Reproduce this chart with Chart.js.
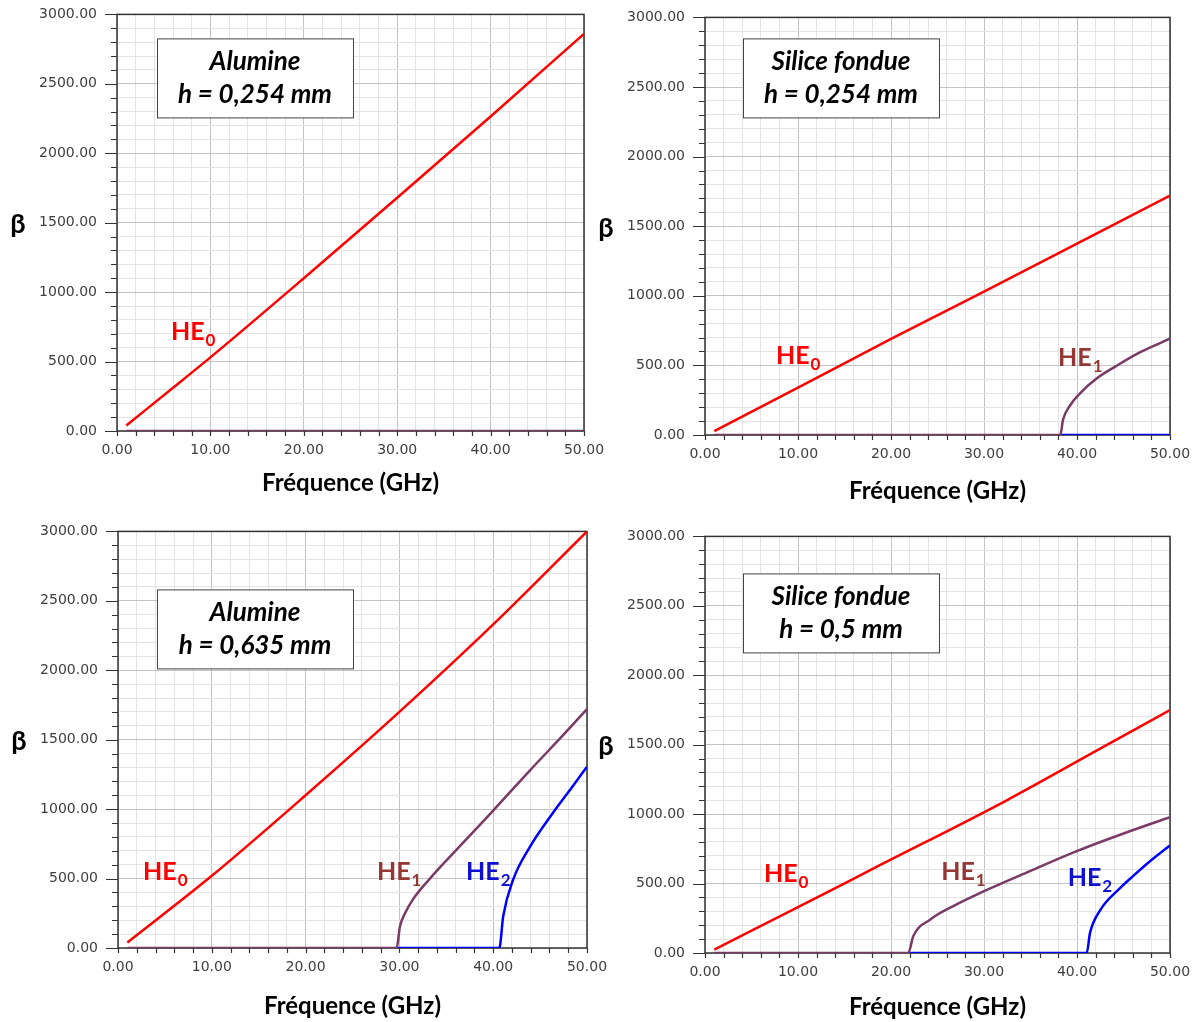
<!DOCTYPE html>
<html>
<head>
<meta charset="utf-8">
<script src="https://cdn.jsdelivr.net/npm/chart.js@4.4.1/dist/chart.umd.min.js"></script>
<style>
  html, body { margin: 0; padding: 0; background: #fff; overflow: hidden; }
  body { width: 1199px; height: 1022px; position: relative; }
  canvas { position: absolute; }
</style>
</head>
<body>
<canvas id="c1"></canvas>
<canvas id="c2"></canvas>
<canvas id="c3"></canvas>
<canvas id="c4"></canvas>
<script>
// Alumine h = 0,254 mm
const alu254He0F = [1, 7, 10, 20, 30, 40, 50];
const alu254He0B = [40, 366, 530, 1100, 1680, 2265, 2860];
const alu254He1F = [1, 50];
const alu254He1B = [0, 0];

// Silice fondue h = 0,254 mm
const sil254He0F = [1, 10, 20, 30, 40, 50];
const sil254He0B = [28, 340, 690, 1030, 1375, 1720];
const sil254He1F = [1, 38.2, 38.5, 39.25, 40.3, 42.1, 44.2, 46.8, 50];
const sil254He1B = [0, 0, 110, 212, 298, 406, 495, 595, 692];
const sil254He2F = [38.2, 50];
const sil254He2B = [0, 0];

// Alumine h = 0,635 mm
const alu635He0F = [1, 10, 20, 30, 40, 50];
const alu635He0B = [40, 520, 1100, 1700, 2330, 3000];
const alu635He1F = [1, 29.7, 30.06, 30.6, 31.48, 33.25, 36.8, 40, 43.9, 47.5, 50];
const alu635He1B = [0, 0, 155, 250, 354, 500, 759, 990, 1278, 1536, 1720];
const alu635He2F = [29.7, 40.65, 41.07, 42.1, 43.9, 46.3, 48.4, 50];
const alu635He2B = [0, 0, 230, 488, 727, 967, 1158, 1306];

// Silice fondue h = 0,5 mm
const sil500He0F = [1, 10, 18.8, 32.4, 42.1, 50];
const sil500He0B = [25, 330, 632, 1098, 1457, 1750];
const sil500He1F = [1, 21.86, 22.4, 24.2, 26.7, 30, 34.95, 40.1, 45.3, 50];
const sil500He1B = [0, 0, 122, 240, 338, 445, 590, 737, 868, 978];
const sil500He2F = [21.86, 41.04, 41.4, 42.5, 44.6, 46.05, 48.2, 50];
const sil500He2B = [0, 0, 145, 309, 465, 555, 680, 775];

const xTicks = [0, 10, 20, 30, 40, 50];
const yTicks = [0, 500, 1000, 1500, 2000, 2500, 3000];

const RED = '#ff0000';
const PURPLE = '#7a3a66';
const BLUE = '#0000ff';
const LBL_HE1 = '#953735';
const LBL_HE2 = '#1010d0';
const TXT_FONT = "Lato, 'Open Sans', sans-serif";

function pts(fs, bs) {
    return fs.map((f, i) => ({ x: f, y: bs[i] }));
}

function ds(fs, bs, color) {
    return {
        data: pts(fs, bs),
        borderColor: color,
        borderWidth: 2.5,
        pointRadius: 0,
        showLine: true,
        cubicInterpolationMode: 'monotone',
    };
}

const decor = {
    id: 'decor',
    beforeDatasetsDraw(chart, args, o) {
        const { ctx, chartArea: a, scales: { x, y } } = chart;
        ctx.save();
        ctx.strokeStyle = '#333';
        ctx.lineWidth = 1.5;
        ctx.strokeRect(a.left, a.top, a.width, a.height);
        ctx.lineWidth = 1.2;
        ctx.beginPath();
        y.ticks.forEach(t => {
            const py = Math.round(y.getPixelForValue(t.value)) + 0.5;
            const len = yTicks.includes(t.value) ? 12 : 6;
            ctx.moveTo(a.left - len, py);
            ctx.lineTo(a.left, py);
        });
        x.ticks.forEach(t => {
            const px = Math.round(x.getPixelForValue(t.value)) + 0.5;
            ctx.moveTo(px, a.bottom);
            ctx.lineTo(px, a.bottom + 5);
        });
        ctx.stroke();
        ctx.restore();
    },
    afterDraw(chart, args, o) {
        const { ctx, chartArea: a, scales: { x, y } } = chart;
        ctx.save();
        ctx.fillStyle = '#000';
        ctx.textAlign = 'center';
        ctx.textBaseline = 'middle';
        ctx.font = 'bold 24px ' + TXT_FONT;
        ctx.fillText('Fréquence (GHz)', (a.left + a.right) / 2, a.bottom + o.titleOffset);
        ctx.font = 'bold 27px ' + TXT_FONT;
        ctx.fillText('β', a.left - 99, (a.top + a.bottom) / 2 + 2);

        // boîte de texte
        const bx = a.left + o.box[0], by = a.top + o.box[1];
        ctx.fillStyle = '#fff';
        ctx.fillRect(bx, by, 196, 79);
        ctx.strokeStyle = '#444';
        ctx.lineWidth = 1;
        ctx.strokeRect(bx + 0.5, by + 0.5, 196, 79);
        ctx.fillStyle = '#000';
        ctx.font = 'italic bold 26px ' + TXT_FONT;
        ctx.fillText(o.boxLines[0], bx + 98, by + 23);
        ctx.fillText(o.boxLines[1], bx + 98, by + 56);

        // étiquettes des modes
        ctx.textAlign = 'left';
        ctx.textBaseline = 'alphabetic';
        o.labels.forEach(l => {
            const px = x.getPixelForValue(l.x);
            const py = y.getPixelForValue(l.y);
            ctx.fillStyle = l.color;
            ctx.font = 'bold 25px ' + TXT_FONT;
            ctx.fillText('HE', px, py);
            const w = ctx.measureText('HE').width;
            ctx.font = 'bold 17px ' + TXT_FONT;
            ctx.fillText(l.sub, px + w + 1, py + 6);
        });
        ctx.restore();
    },
};

// la zone de tracé commence à 27 px du haut du canvas (padding des graduations y)
const TOP_GAP = 27;

function makeChart(id, plot, datasets, opts) {
    const [L, T, W, H] = plot;
    const canvas = document.getElementById(id);
    canvas.width = 120 + W + 40;
    canvas.height = TOP_GAP + H + 80;
    canvas.style.left = (L - 120) + 'px';
    canvas.style.top = (T - TOP_GAP) + 'px';

    new Chart(canvas, {
        type: 'scatter',
        data: { datasets },
        plugins: [decor],
        options: {
            responsive: false,
            animation: false,
            layout: { padding: { left: 20, right: 40, top: 0, bottom: 0 } },
            scales: {
                x: {
                    type: 'linear',
                    min: 0,
                    max: 50,
                    afterFit: s => { s.height = 80; },
                    border: { display: false },
                    grid: {
                        drawTicks: false,
                        color: c => xTicks.includes(c.tick.value) ? '#c4c4c4' : '#e4e4e4',
                        lineWidth: 1,
                    },
                    ticks: {
                        stepSize: 2,
                        autoSkip: false,
                        maxRotation: 0,
                        maxTicksLimit: 100,
                        padding: 11,
                        color: '#3e3e3e',
                        font: { family: 'DejaVu Sans', size: 14 },
                        callback: v => xTicks.includes(v) ? v.toFixed(2) : '',
                    },
                },
                y: {
                    type: 'linear',
                    min: 0,
                    max: 3000,
                    afterFit: s => { s.width = 100; },
                    border: { display: false },
                    grid: {
                        drawTicks: false,
                        color: c => yTicks.includes(c.tick.value) ? '#c4c4c4' : '#e4e4e4',
                        lineWidth: 1,
                    },
                    ticks: {
                        stepSize: 100,
                        autoSkip: false,
                        maxTicksLimit: 100,
                        padding: 20,
                        color: '#3e3e3e',
                        font: { family: 'DejaVu Sans', size: 14 },
                        callback: v => yTicks.includes(v) ? v.toFixed(2) : '',
                    },
                },
            },
            plugins: {
                legend: { display: false },
                tooltip: { enabled: false },
                decor: opts,
            },
        },
    });
}

makeChart('c1', [117, 13, 467, 418], [
    ds(alu254He1F, alu254He1B, PURPLE),
    ds(alu254He0F, alu254He0B, RED),
], {
    titleOffset: 52,
    box: [40, 24],
    boxLines: ['Alumine', 'h = 0,254 mm'],
    labels: [{ x: 5.78, y: 653, sub: '0', color: RED }],
});

makeChart('c2', [705, 16, 465, 419], [
    ds(sil254He1F, sil254He1B, PURPLE),
    ds(sil254He2F, sil254He2B, BLUE),
    ds(sil254He0F, sil254He0B, RED),
], {
    titleOffset: 56,
    box: [38, 21],
    boxLines: ['Silice fondue', 'h = 0,254 mm'],
    labels: [
        { x: 7.63, y: 508, sub: '0', color: RED },
        { x: 37.96, y: 494, sub: '1', color: LBL_HE1 },
    ],
});

makeChart('c3', [118, 530, 469, 418], [
    ds(alu635He1F, alu635He1B, PURPLE),
    ds(alu635He2F, alu635He2B, BLUE),
    ds(alu635He0F, alu635He0B, RED),
], {
    titleOffset: 58,
    box: [39, 58],
    boxLines: ['Alumine', 'h = 0,635 mm'],
    labels: [
        { x: 2.67, y: 488, sub: '0', color: RED },
        { x: 27.6, y: 488, sub: '1', color: LBL_HE1 },
        { x: 37.1, y: 488, sub: '2', color: LBL_HE2 },
    ],
});

makeChart('c4', [705, 535, 465, 418], [
    ds(sil500He1F, sil500He1B, PURPLE),
    ds(sil500He2F, sil500He2B, BLUE),
    ds(sil500He0F, sil500He0B, RED),
], {
    titleOffset: 54,
    box: [38, 37],
    boxLines: ['Silice fondue', 'h = 0,5 mm'],
    labels: [
        { x: 6.34, y: 510, sub: '0', color: RED },
        { x: 25.4, y: 524, sub: '1', color: LBL_HE1 },
        { x: 39.0, y: 481, sub: '2', color: LBL_HE2 },
    ],
});
</script>
</body>
</html>
